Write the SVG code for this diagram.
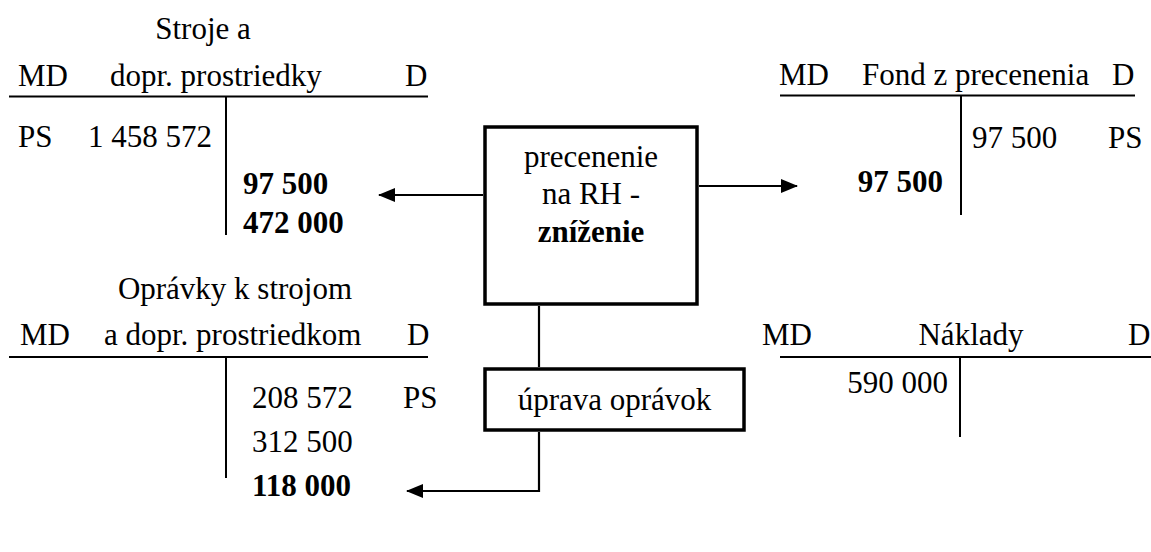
<svg xmlns="http://www.w3.org/2000/svg" width="1151" height="552" viewBox="0 0 1151 552">
<style>
text{font-family:"Liberation Serif","Times New Roman",serif;font-size:31px;fill:#000}
.b{font-weight:bold}
.m{text-anchor:middle}
.e{text-anchor:end}
.t{stroke:#000;stroke-width:2;fill:none}
.box{stroke:#000;stroke-width:3.5;fill:#fff}
.c{stroke:#000;stroke-width:2.2;fill:none}
</style>
<defs>
<marker id="ah" markerUnits="userSpaceOnUse" markerWidth="17" markerHeight="14" viewBox="0 0 17 14" refX="16" refY="7" orient="auto">
<path d="M0,0 L17,7 L0,14 Z" fill="#000"/>
</marker>
</defs>
<rect width="1151" height="552" fill="#fff"/>

<g id="acc-stroje">
<text x="203" y="39" class="m">Stroje a</text>
<text x="18" y="86">MD</text>
<text x="110" y="86">dopr. prostriedky</text>
<text x="405" y="86">D</text>
<line x1="9" y1="96.5" x2="428" y2="96.5" class="t"/>
<line x1="226" y1="96.5" x2="226" y2="235" class="t"/>
<text x="18" y="147">PS</text>
<text x="212" y="147" class="e">1 458 572</text>
<text x="243" y="194" class="b">97 500</text>
<text x="243" y="233" class="b">472 000</text>
</g>

<g id="acc-opravky">
<text x="235" y="299" class="m">Oprávky k strojom</text>
<text x="20" y="345">MD</text>
<text x="104" y="345">a dopr. prostriedkom</text>
<text x="407" y="345">D</text>
<line x1="9" y1="357" x2="428" y2="357" class="t"/>
<line x1="226" y1="357" x2="226" y2="478" class="t"/>
<text x="252" y="408">208 572</text>
<text x="403" y="408">PS</text>
<text x="252" y="452">312 500</text>
<text x="252" y="496" class="b">118 000</text>
</g>

<g id="acc-fond">
<text x="779" y="85">MD</text>
<text x="862" y="85">Fond z precenenia</text>
<text x="1112" y="85">D</text>
<line x1="780" y1="95.5" x2="1135" y2="95.5" class="t"/>
<line x1="961" y1="95.5" x2="961" y2="215" class="t"/>
<text x="972" y="148">97 500</text>
<text x="1108" y="148">PS</text>
<text x="943" y="192" class="b e">97 500</text>
</g>

<g id="acc-naklady">
<text x="762" y="345">MD</text>
<text x="971" y="345" class="m">Náklady</text>
<text x="1128" y="345">D</text>
<line x1="780" y1="357" x2="1151" y2="357" class="t"/>
<line x1="960" y1="357" x2="960" y2="437" class="t"/>
<text x="948" y="393" class="e">590 000</text>
</g>

<g id="box-precenenie">
<rect x="485" y="127" width="212" height="177" class="box"/>
<text x="591" y="167" class="m">precenenie</text>
<text x="591" y="204" class="m">na RH -</text>
<text x="591" y="242" class="m b">zníženie</text>
</g>

<g id="box-uprava">
<rect x="485" y="369" width="259" height="61" class="box"/>
<text x="614.5" y="410" class="m">úprava oprávok</text>
</g>

<g id="connectors">
<line x1="483" y1="195" x2="379" y2="195" class="c" marker-end="url(#ah)"/>
<line x1="699" y1="186" x2="797" y2="186" class="c" marker-end="url(#ah)"/>
<line x1="539" y1="306" x2="539" y2="367" class="c"/>
<polyline points="539,432 539,491 407,491" class="c" marker-end="url(#ah)"/>
</g>
</svg>
